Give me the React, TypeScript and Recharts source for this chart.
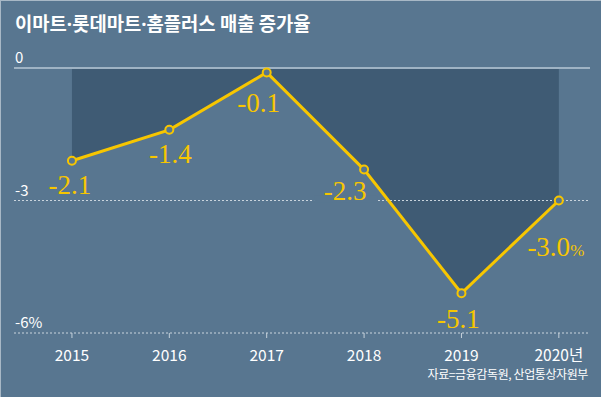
import React from 'react';
import { ComposedChart, Area, Line, XAxis, YAxis, ReferenceLine, LabelList } from 'recharts';

const years = [2015, 2016, 2017, 2018, 2019, 2020];
const xTickLabels = ['2015', '2016', '2017', '2018', '2019', '2020년'];
const growth = [-2.1, -1.4, -0.1, -2.3, -5.1, -3.0];
const valueLabels = ['-2.1', '-1.4', '-0.1', '-2.3', '-5.1', '-3.0'];
const yTicks = [0, -3, -6];
const yTickLabels = ['0', '-3', '-6%'];
const titleParts = ['이마트', '롯데마트', '홈플러스 매출 증가율'];
const source = '자료=금융감독원, 산업통상자원부';

const data = years.map((y, i) => ({ year: y, value: growth[i], label: valueLabels[i] }));

// label placement (styling only)
const labelDx = [-2, 1, -8, -19, -3, -3];
const labelDy = [33, 33, 40, 30, 35, 55];
const labelMask = [false, false, false, true, false, false];

const BG = '#587690';
const DARK = '#3f5b74';
const YELLOW = '#f7c600';
const SANS = '"Noto Sans CJK KR", "Noto Sans", sans-serif';
const SERIF = '"Liberation Serif", "DejaVu Serif", serif';

const XTick = (props: any) => {
  const { x, y, payload, index } = props;
  return (
    <text x={x} y={y + 21} textAnchor="middle" fill="#ffffff" fontSize={15.5} fontFamily={SANS}>
      {xTickLabels[index] ?? String(payload.value)}
    </text>
  );
};

const makeYLabel = (text: string) => (props: any) => {
  const vb = props.viewBox || {};
  return (
    <text x={vb.x + 1} y={vb.y - 5} textAnchor="start" fill="#ffffff" fontSize={15} fontFamily={SANS}>
      {text}
    </text>
  );
};

const ValueLabel = (props: any) => {
  const { x, y, index } = props;
  const last = index === valueLabels.length - 1;
  const cx = x + labelDx[index];
  const by = y + labelDy[index];
  return (
    <g>
      {labelMask[index] ? <rect x={cx - 31} y={by - 4} width={63} height={7} fill={BG} /> : null}
      <text x={cx} y={by} textAnchor="middle" fill={YELLOW} fontSize={27} fontFamily={SERIF}>
        {valueLabels[index]}
        {last ? <tspan fontSize={17}>%</tspan> : null}
      </text>
    </g>
  );
};

export default function App() {
  return (
    <div
      style={{
        position: 'fixed',
        left: 0,
        top: 0,
        width: 601,
        height: 397,
        background: BG,
        overflow: 'hidden',
        boxSizing: 'border-box',
        borderLeft: '1px solid #a8b8c6',
        borderTop: '1px solid #a8b8c6',
      }}
    >
      <div
        style={{
          position: 'absolute',
          left: 14,
          top: 8,
          color: '#ffffff',
          fontFamily: SANS,
          fontSize: 18.8,
          fontWeight: 700,
          lineHeight: '28px',
          whiteSpace: 'nowrap',
        }}
      >
        {titleParts.map((p, i) => (
          <React.Fragment key={i}>
            {i > 0 ? <span style={{ fontFamily: '"Noto Sans", sans-serif' }}>·</span> : null}
            {p}
          </React.Fragment>
        ))}
      </div>
      <div style={{ position: 'absolute', left: -1, top: -1 }}>
        <ComposedChart
          width={601}
          height={397}
          data={data}
          margin={{ top: 68, right: 11, bottom: 34, left: 14 }}
        >
          <XAxis
            dataKey="year"
            type="number"
            domain={[2014.405, 2020.32]}
            allowDataOverflow
            ticks={years}
            interval={0}
            axisLine={false}
            tickLine={{ stroke: '#c5d1db', strokeWidth: 1 }}
            tickSize={5}
            tickMargin={2}
            height={30}
            tick={<XTick />}
          />
          <YAxis type="number" domain={[-6, 0]} ticks={yTicks} width={0} hide />
          <Area
            dataKey="value"
            type="linear"
            baseValue={0}
            fill={DARK}
            fillOpacity={1}
            stroke="none"
            isAnimationActive={false}
          />
          <ReferenceLine y={0} stroke="#9fb3c4" strokeWidth={2} label={makeYLabel(yTickLabels[0])} />
          <ReferenceLine
            y={-3}
            stroke="#c9d4dd"
            strokeWidth={1}
            strokeDasharray="2 2"
            label={makeYLabel(yTickLabels[1])}
          />
          <ReferenceLine
            y={-6}
            stroke="#c9d4dd"
            strokeWidth={1}
            strokeDasharray="2 2"
            label={makeYLabel(yTickLabels[2])}
          />
          <Line
            dataKey="value"
            type="linear"
            stroke={YELLOW}
            strokeWidth={3}
            dot={{ r: 4, fill: BG, stroke: YELLOW, strokeWidth: 2 }}
            activeDot={false}
            isAnimationActive={false}
          >
            <LabelList dataKey="label" content={<ValueLabel />} />
          </Line>
        </ComposedChart>
      </div>
      <svg width={601} height={397} style={{ position: 'absolute', left: -1, top: -1, pointerEvents: 'none' }}>
        <text x={588} y={379} textAnchor="end" fill="#ffffff" fontSize={12} fontFamily={SANS} letterSpacing={-0.4}>
          {source}
        </text>
      </svg>
    </div>
  );
}
